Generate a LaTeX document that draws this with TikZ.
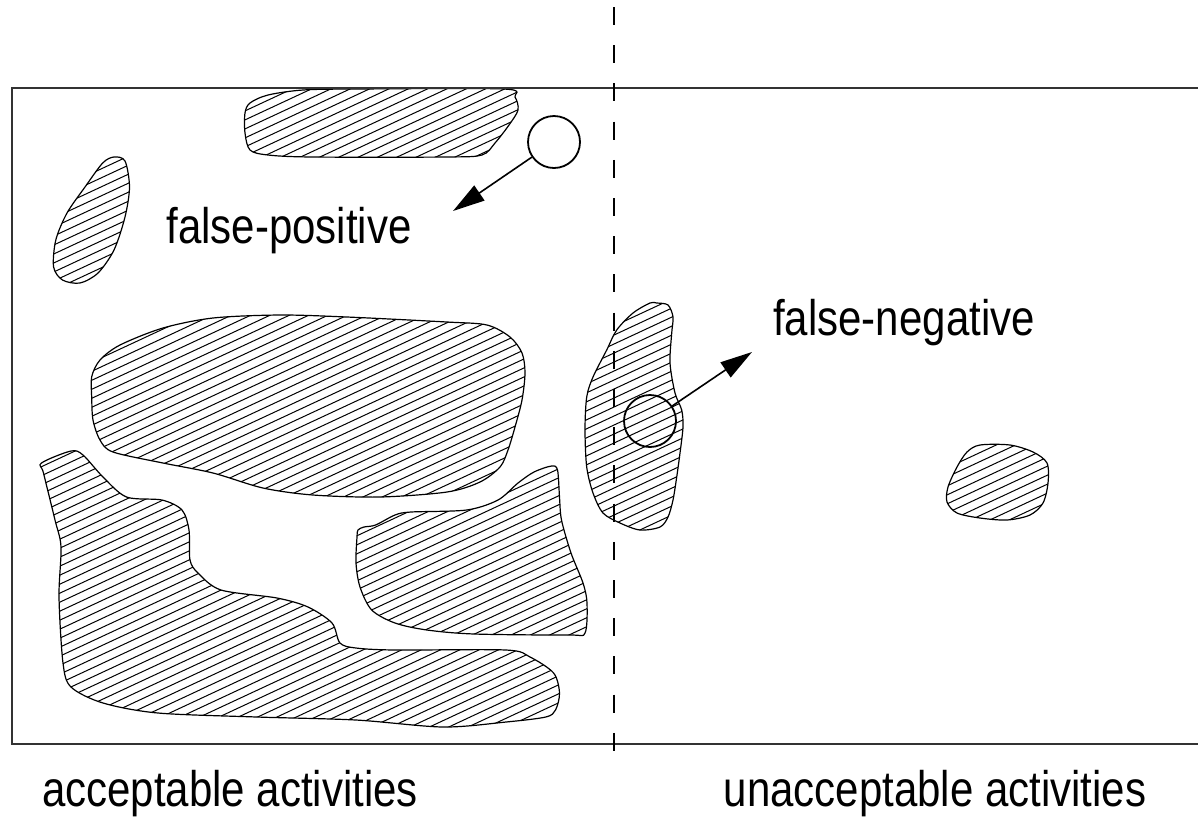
\documentclass[tikz,border=0pt]{standalone}
\usepackage{fontspec}
\newfontfamily\labfont[FakeStretch=0.84]{Liberation Sans}
\usetikzlibrary{arrows.meta}
\tikzset{
  blob/.style={line width=0.6pt},
  hatch/.style={line width=0.5pt},
  frame/.style={line width=0.75pt, draw=black!80},
  divider/.style={line width=0.55pt, dash pattern=on 9pt off 10.1pt},
  marker/.style={circle, draw, line width=0.9pt, minimum size=26pt, inner sep=0pt},
  pointer/.style={line width=0.8pt, -{Triangle[length=16pt, width=9pt]}},
  lab/.style={font=\labfont\fontsize{25pt}{27pt}\selectfont, inner sep=0pt, anchor=base}
}
\begin{document}
\begin{tikzpicture}[x=0.5pt, y=-0.5pt]
\useasboundingbox (0,0) rectangle (1198,816);

\def\blobA{plot[smooth cycle] coordinates {(250,103) (268,95) (303,90) (357,89) (504,89) (515,97) (518,110) (509,125) (495,143) (482,155) (446,157) (312,157) (268,155) (250,150) (245,133) (245,113)}}
\def\blobB{plot[smooth cycle] coordinates {(114,157) (125,161) (129.5,187) (125,217) (114,250) (98,273) (80,283) (62.5,280) (53.6,267) (55.8,240) (67,213) (85,187) (102.7,163)}}
\def\blobC{plot[smooth cycle] coordinates {(91.7,376.7) (100,360) (120,345) (163,328) (213,318) (280,315) (347,317) (447,322) (487,325) (510,337) (522,353) (525,373) (522,400) (515,427) (508,450) (500,467) (480,482) (447,492) (380,497) (313,495) (263,488) (213,473) (163,463) (113,452) (100,440) (93,420) (91.7,397)}}
\def\blobD{plot[smooth cycle] coordinates {(41.5,463) (71,451) (83,455) (103,477) (126.5,497) (162,500) (182,510) (189,530) (190,560) (198,573) (221,590) (277,598) (308,607) (332,623) (340,643) (356,648) (395,650) (506,650) (530,657) (553.6,673) (559.5,693) (555.5,710) (545.7,717) (506,722) (443,727) (356,720) (257,717) (158,713) (103,703) (71,687) (63,663) (59,597) (61,547) (55,520) (43.5,473)}}
\def\blobE{plot[smooth cycle] coordinates {(358,530) (364,527) (375.6,525) (395,515) (411,512) (466.6,510) (498,500) (518,483) (534,472) (551.6,466) (557.5,470) (559.5,497) (561.5,520) (571,553) (583,583) (587,603) (585,633) (569,635) (474.5,634) (427,630) (395,623) (371.7,610) (360,587) (356,563) (357,537)}}
\def\blobF{plot[smooth cycle] coordinates {(656.7,303) (668,305) (673,317) (671.7,333) (670,363) (675,393) (681.7,410) (683,427) (680,453) (676.7,477) (673,500) (668,517) (660,527) (640,530) (620,523) (603,513) (593,493) (586.7,467) (585,430) (586.7,397) (593,377) (606.7,350) (616.7,330) (633,313) (650,303)}}
\def\blobG{plot[smooth cycle] coordinates {(980,445) (1010,445) (1033,452) (1047,463) (1048,483) (1043,503) (1030,515) (1007,520) (980,518) (957,513) (947,502) (948,487) (957,467) (967,452)}}

% hatching
\begin{scope}
  \clip \blobA \blobB \blobC \blobD \blobE \blobF \blobG;
  \foreach \k in {0,...,146} {
    \draw[hatch] (0,\k*9) -- ++(1198,-558);
  }
\end{scope}
\draw[blob] \blobA \blobB \blobC \blobD \blobE \blobF \blobG;

% frame
\coordinate (tr) at (1198,88);
\coordinate (tl) at (12,88);
\coordinate (bl) at (12,744);
\coordinate (br) at (1198,744);
\draw[frame] (tr) -- (tl) -- (bl) -- (br);

% divider
\coordinate (dtop) at (614,7);
\coordinate (dbot) at (614,752);
\draw[divider] (dtop) -- (dbot);

% markers and arrows
\node[marker] (fp) at (554,142) {};
\coordinate (fptip) at (453,211);
\draw[pointer] (fp) -- (fptip);
\node[marker] (fn) at (650,421) {};
\coordinate (fntip) at (752,352);
\draw[pointer] (fn) -- (fntip);

% labels
\node[lab] (fplab) at (289,243) {false-positive};
\node[lab] (fnlab) at (904,335) {false-negative};
\node[lab] (acc) at (230,806) {acceptable activities};
\node[lab] (unacc) at (935,806) {unacceptable activities};
\end{tikzpicture}
\end{document}
